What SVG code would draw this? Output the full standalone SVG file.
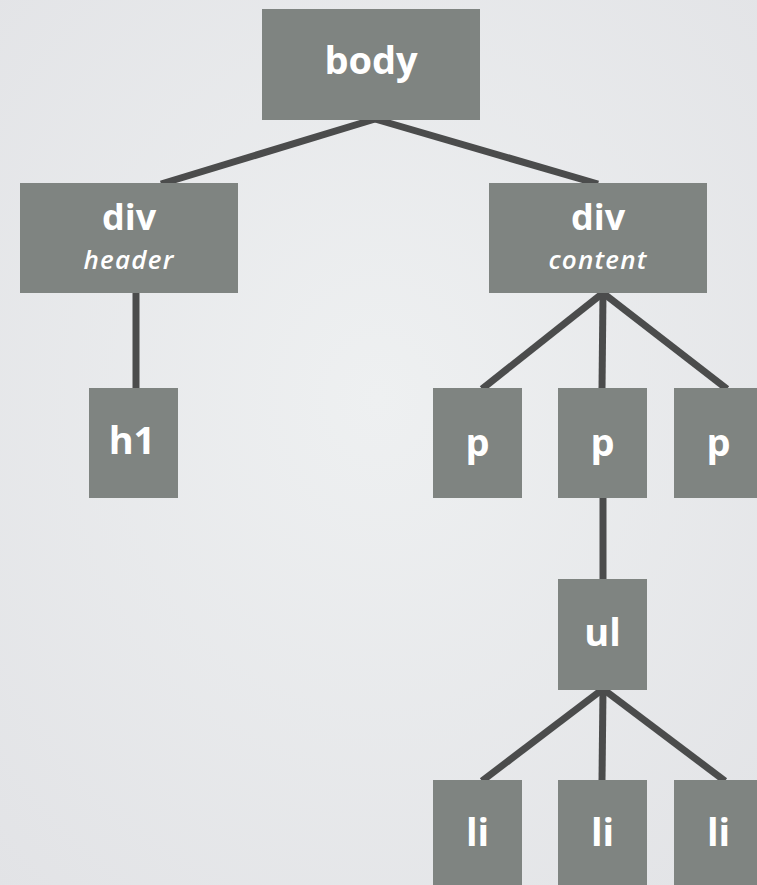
<svg xmlns="http://www.w3.org/2000/svg" width="757" height="885" viewBox="0 0 757 885">
  <defs>
    <radialGradient id="bg" cx="50%" cy="45%" r="75%">
      <stop offset="0" stop-color="#eef0f1"/>
      <stop offset="1" stop-color="#e2e3e6"/>
    </radialGradient>
  </defs>
  <style>
    .node rect { fill: #7f8481; }
    .lbl { fill: #ffffff; font-family: "Open Sans", "Lato", sans-serif; font-weight: 700; font-size: 38px; text-anchor: middle; }
    .sub { fill: #ffffff; font-family: "Open Sans", "Lato", sans-serif; font-weight: 600; font-style: italic; font-size: 26px; text-anchor: middle; letter-spacing: 1.2px; }
    #connectors line { stroke: #4b4c4c; stroke-width: 7; stroke-linecap: butt; }
  </style>
  <rect width="757" height="885" fill="url(#bg)"/>
  <g id="connectors">
    <line x1="375" y1="119" x2="161" y2="184"/>
    <line x1="375" y1="119" x2="598" y2="184"/>
    <line x1="136" y1="292" x2="136" y2="389"/>
    <line x1="603" y1="293" x2="482" y2="389"/>
    <line x1="603" y1="293" x2="602" y2="389"/>
    <line x1="603" y1="293" x2="727" y2="389"/>
    <line x1="603" y1="497" x2="603" y2="580"/>
    <line x1="603" y1="689" x2="482" y2="781"/>
    <line x1="603" y1="689" x2="602" y2="781"/>
    <line x1="603" y1="689" x2="725" y2="781"/>
  </g>
  <g id="node-body" class="node">
    <rect x="262" y="9" width="218" height="111"/>
    <text class="lbl" x="371" y="74">body</text>
  </g>
  <g id="node-div-header" class="node">
    <rect x="20" y="183" width="218" height="110"/>
    <text class="lbl" x="129" y="230" style="font-size:36px">div</text>
    <text class="sub" x="129" y="269">header</text>
  </g>
  <g id="node-div-content" class="node">
    <rect x="489" y="183" width="218" height="110"/>
    <text class="lbl" x="598" y="230" style="font-size:36px">div</text>
    <text class="sub" x="598" y="269">content</text>
  </g>
  <g id="node-h1" class="node">
    <rect x="89" y="388" width="89" height="110"/>
    <text class="lbl" x="132" y="454">h1</text>
  </g>
  <g id="node-p1" class="node">
    <rect x="433" y="388" width="89" height="110"/>
    <text class="lbl" x="477.5" y="456">p</text>
  </g>
  <g id="node-p2" class="node">
    <rect x="558" y="388" width="89" height="110"/>
    <text class="lbl" x="602.5" y="456">p</text>
  </g>
  <g id="node-p3" class="node">
    <rect x="674" y="388" width="89" height="110"/>
    <text class="lbl" x="718.5" y="456">p</text>
  </g>
  <g id="node-ul" class="node">
    <rect x="558" y="579" width="89" height="111"/>
    <text class="lbl" x="602.5" y="646">ul</text>
  </g>
  <g id="node-li1" class="node">
    <rect x="433" y="780" width="89" height="110"/>
    <text class="lbl" x="477.5" y="846">li</text>
  </g>
  <g id="node-li2" class="node">
    <rect x="558" y="780" width="89" height="110"/>
    <text class="lbl" x="602.5" y="846">li</text>
  </g>
  <g id="node-li3" class="node">
    <rect x="674" y="780" width="89" height="110"/>
    <text class="lbl" x="718.5" y="846">li</text>
  </g>
</svg>
